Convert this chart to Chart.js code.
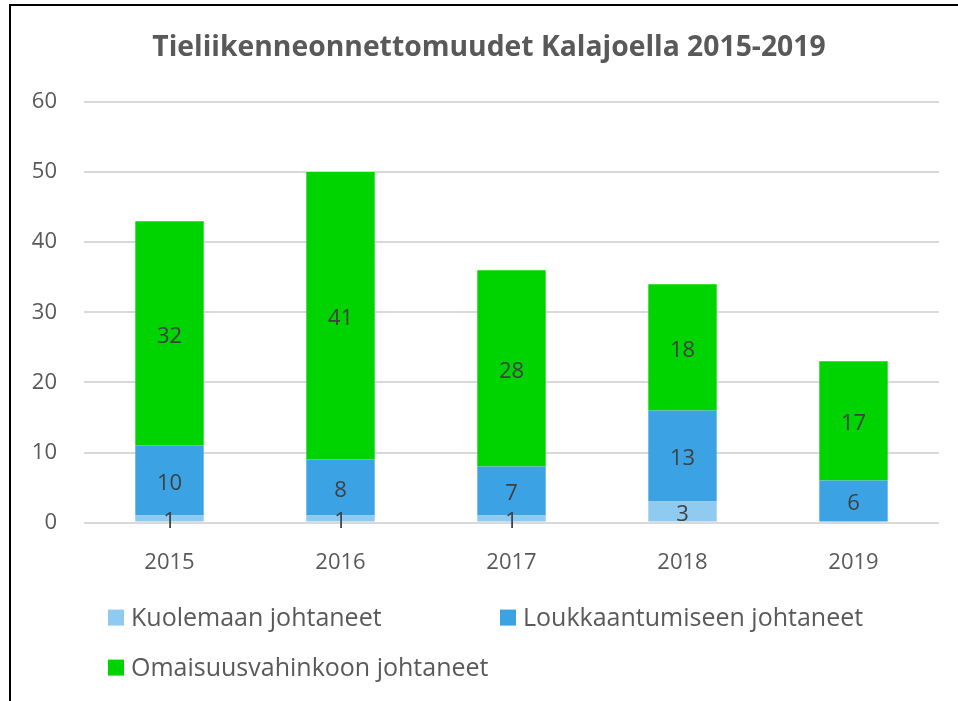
<!DOCTYPE html>
<html><head><meta charset="utf-8">
<script src="https://cdn.jsdelivr.net/npm/chart.js@4/dist/chart.umd.min.js"></script>
<style>
html,body{margin:0;padding:0;overflow:hidden;background:#fff;width:958px;height:701px;}
#wrap{position:absolute;left:0;top:0;width:958px;height:701px;}
#frame{position:absolute;left:9px;top:4px;width:1000px;height:1000px;border:2px solid #000;pointer-events:none;}
</style></head>
<body>
<div id="wrap"><canvas id="c" width="958" height="701"></canvas></div>
<div id="frame"></div>
<script>
const titleText = 'Tieliikenneonnettomuudet Kalajoella 2015-2019';
const categories = ['2015','2016','2017','2018','2019'];
const seriesNames = ['Kuolemaan johtaneet','Loukkaantumiseen johtaneet','Omaisuusvahinkoon johtaneet'];
const kuolemaan = [1,1,1,3,null];
const loukkaantumiseen = [10,8,7,13,6];
const omaisuusvahinko = [32,41,28,18,17];
const yTicks = [0,10,20,30,40,50,60];
const colors = ['#8fcaf0','#3ba3e3','#00d400'];

const FONT = '"Open Sans", sans-serif';

const titlePlugin = {
  id:'customTitle',
  afterDraw(chart){
    const ctx = chart.ctx;
    ctx.save();
    ctx.font = 'bold 28.3px ' + FONT;
    ctx.fillStyle = '#595959';
    ctx.textAlign = 'center';
    ctx.textBaseline = 'middle';
    ctx.fillText(titleText, 489, 48);
    ctx.restore();
  }
};

const labelPlugin = {
  id:'segLabels',
  afterDatasetsDraw(chart){
    const ctx = chart.ctx;
    ctx.save();
    ctx.font = '22px ' + FONT;
    ctx.fillStyle = '#404040';
    ctx.textAlign = 'center';
    ctx.textBaseline = 'middle';
    chart.data.datasets.forEach((ds,i)=>{
      const meta = chart.getDatasetMeta(i);
      meta.data.forEach((el,j)=>{
        const v = ds.data[j];
        if(v==null || v===0) return;
        ctx.fillText(String(v), el.x, (el.y+el.base)/2 + 3);
      });
    });
    ctx.restore();
  }
};

const legendPlugin = {
  id:'customLegend',
  afterDraw(chart){
    const ctx = chart.ctx;
    const a = chart.chartArea;
    const items = [
      {x:a.left+24, y:a.bottom+95},
      {x:a.left+416, y:a.bottom+95},
      {x:a.left+24, y:a.bottom+145}
    ];
    ctx.save();
    ctx.font = '25px ' + FONT;
    ctx.textBaseline = 'middle';
    ctx.textAlign = 'left';
    chart.data.datasets.forEach((ds,i)=>{
      const it = items[i];
      ctx.fillStyle = ds.backgroundColor;
      ctx.fillRect(it.x, it.y-8, 16, 16);
      ctx.fillStyle = '#595959';
      ctx.fillText(ds.label, it.x+23, it.y+1);
    });
    ctx.restore();
  }
};

new Chart(document.getElementById('c'), {
  type:'bar',
  data:{
    labels: categories,
    datasets:[
      {label:seriesNames[0], data:kuolemaan, backgroundColor:colors[0]},
      {label:seriesNames[1], data:loukkaantumiseen, backgroundColor:colors[1]},
      {label:seriesNames[2], data:omaisuusvahinko, backgroundColor:colors[2]}
    ]
  },
  options:{
    responsive:false,
    animation:false,
    devicePixelRatio:1,
    layout:{padding:{left:0,right:19,top:102,bottom:98}},
    datasets:{bar:{barPercentage:0.4,categoryPercentage:1,borderWidth:0}},
    plugins:{
      legend:{display:false},
      tooltip:{enabled:false},
      title:{display:false}
    },
    scales:{
      x:{stacked:true,
        grid:{display:false,drawTicks:false},
        border:{display:false},
        ticks:{color:'#595959',font:{family:FONT,size:22},padding:27}
      },
      y:{stacked:true,min:0,max:60,
        afterBuildTicks(s){s.ticks = yTicks.map(v=>({value:v}));},
        grid:{color:'#d9d9d9',lineWidth:2,drawTicks:false},
        border:{display:false},
        ticks:{color:'#595959',font:{family:FONT,size:22},padding:27},
        afterFit(s){s.width=84;}
      }
    }
  },
  plugins:[labelPlugin,legendPlugin,titlePlugin]
});
</script>
</body></html>
